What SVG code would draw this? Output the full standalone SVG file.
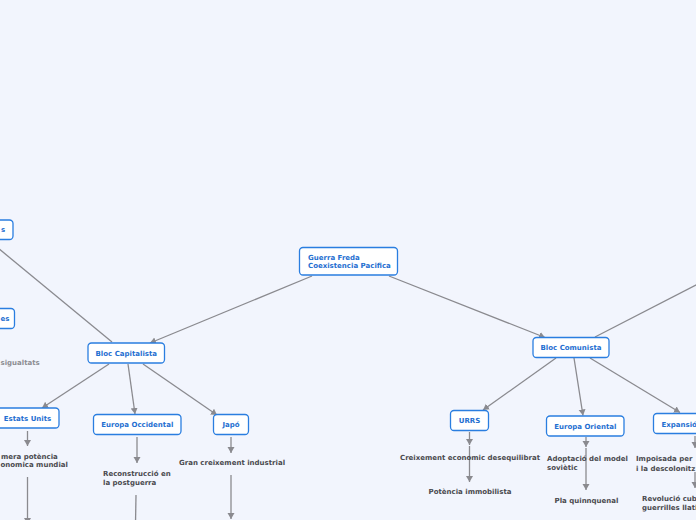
<svg xmlns="http://www.w3.org/2000/svg" width="696" height="520" viewBox="0 0 696 520">
<defs>
<style>
.bg{fill:#f2f5fd}
.box{fill:#ffffff;stroke:#2a7ee0;stroke-width:1.3}
.lbl{font-family:"DejaVu Sans",Verdana,sans-serif;font-weight:bold;font-size:7px;fill:#1f6fd1}
.txt{font-family:"DejaVu Sans",Verdana,sans-serif;font-weight:bold;font-size:7px;fill:#4a4a4f}
.txt2{font-family:"DejaVu Sans",Verdana,sans-serif;font-weight:bold;font-size:7px;fill:#8d8d92}
.con{stroke:#8a8a8f;stroke-width:1.3;fill:none}
</style>
<marker id="ah" markerUnits="userSpaceOnUse" markerWidth="8" markerHeight="8" refX="6" refY="3.5" orient="auto">
<path d="M0,0 L6,3.5 L0,7 z" fill="#8a8a8f"/>
</marker>
</defs>
<rect class="bg" x="0" y="0" width="696" height="520"/>
<g id="connectors">
<line class="con" x1="312" y1="276" x2="150" y2="343" marker-end="url(#ah)"/>
<line class="con" x1="389" y1="276" x2="545" y2="337.5" marker-end="url(#ah)"/>
<line class="con" x1="-2" y1="248" x2="112" y2="342"/>
<line class="con" x1="595" y1="337" x2="700" y2="283"/>
<line class="con" x1="109" y1="364" x2="42" y2="408" marker-end="url(#ah)"/>
<line class="con" x1="128" y1="364" x2="135" y2="414" marker-end="url(#ah)"/>
<line class="con" x1="143" y1="364" x2="217" y2="415" marker-end="url(#ah)"/>
<line class="con" x1="556" y1="358" x2="483" y2="410" marker-end="url(#ah)"/>
<line class="con" x1="574" y1="358" x2="583" y2="415.5" marker-end="url(#ah)"/>
<line class="con" x1="590" y1="358" x2="680" y2="412.5" marker-end="url(#ah)"/>
<line class="con" x1="27.5" y1="431" x2="27.5" y2="446" marker-end="url(#ah)"/>
<line class="con" x1="27.5" y1="477" x2="27.5" y2="524" marker-end="url(#ah)"/>
<line class="con" x1="137" y1="437" x2="137" y2="463" marker-end="url(#ah)"/>
<line class="con" x1="136" y1="495" x2="135.5" y2="524"/>
<line class="con" x1="231" y1="437" x2="231" y2="453" marker-end="url(#ah)"/>
<line class="con" x1="231" y1="475" x2="231" y2="519" marker-end="url(#ah)"/>
<line class="con" x1="469.5" y1="432" x2="469.5" y2="445" marker-end="url(#ah)"/>
<line class="con" x1="469.5" y1="446" x2="469.5" y2="482" marker-end="url(#ah)"/>
<line class="con" x1="586" y1="437" x2="586" y2="447" marker-end="url(#ah)"/>
<line class="con" x1="586" y1="448" x2="586" y2="490" marker-end="url(#ah)"/>
<line class="con" x1="695" y1="436" x2="695" y2="448" marker-end="url(#ah)"/>
<line class="con" x1="695" y1="472" x2="695" y2="488" marker-end="url(#ah)"/>
</g>
<g id="n-central">
<rect class="box" x="299.5" y="247.5" width="98" height="27.5" rx="3.5"/>
<text class="lbl" x="308" y="260">Guerra Freda</text>
<text class="lbl" x="308" y="268">Coexistencia Pacifica</text>
</g>
<g id="n-left1">
<rect class="box" x="-20" y="220" width="33" height="19.5" rx="3.5"/>
<text class="lbl" x="1" y="232">s</text>
</g>
<g id="n-left2">
<rect class="box" x="-20" y="308.5" width="34.5" height="20" rx="3.5"/>
<text class="lbl" x="0.5" y="320.5">es</text>
</g>
<g id="t-desigualtats">
<text class="txt2" x="0.5" y="364.5">sigualtats</text>
</g>
<g id="n-capitalista">
<rect class="box" x="88" y="343" width="76.5" height="20" rx="3.5"/>
<text class="lbl" x="126.3" y="355.5" text-anchor="middle">Bloc Capitalista</text>
</g>
<g id="n-comunista">
<rect class="box" x="533" y="337.5" width="76" height="20" rx="3.5"/>
<text class="lbl" x="571" y="350" text-anchor="middle">Bloc Comunista</text>
</g>
<g id="n-estats">
<rect class="box" x="-12" y="408" width="71" height="20" rx="3.5"/>
<text class="lbl" x="27.5" y="420.5" text-anchor="middle">Estats Units</text>
</g>
<g id="n-europaocc">
<rect class="box" x="93.5" y="414.5" width="87.5" height="20" rx="3.5"/>
<text class="lbl" x="137.3" y="427" text-anchor="middle">Europa Occidental</text>
</g>
<g id="n-japo">
<rect class="box" x="213.5" y="414.5" width="35" height="20" rx="3.5"/>
<text class="lbl" x="231" y="427" text-anchor="middle">Japó</text>
</g>
<g id="n-urrs">
<rect class="box" x="450.5" y="410.5" width="38" height="20" rx="3.5"/>
<text class="lbl" x="469.5" y="423" text-anchor="middle">URRS</text>
</g>
<g id="n-europaori">
<rect class="box" x="546.5" y="416" width="77.5" height="20" rx="3.5"/>
<text class="lbl" x="585.3" y="428.5" text-anchor="middle">Europa Oriental</text>
</g>
<g id="n-expansio">
<rect class="box" x="653.5" y="413.5" width="70" height="20" rx="3.5"/>
<text class="lbl" x="661.5" y="426.5">Expansió</text>
</g>
<g id="t-estats1">
<text class="txt" x="1" y="459">mera potència</text>
<text class="txt" x="0.5" y="467">onomica mundial</text>
</g>
<g id="t-europaocc1">
<text class="txt" x="103" y="476">Reconstrucció en</text>
<text class="txt" x="103" y="485">la postguerra</text>
</g>
<g id="t-japo1">
<text class="txt" x="179" y="465">Gran creixement industrial</text>
</g>
<g id="t-urrs1">
<text class="txt" x="470" y="460" text-anchor="middle">Creixement economic desequilibrat</text>
</g>
<g id="t-urrs2">
<text class="txt" x="470" y="493.5" text-anchor="middle">Potència immobilista</text>
</g>
<g id="t-europaori1">
<text class="txt" x="547" y="461">Adoptació del model</text>
<text class="txt" x="547" y="470">soviètic</text>
</g>
<g id="t-europaori2">
<text class="txt" x="586.5" y="502.5" text-anchor="middle">Pla quinnquenal</text>
</g>
<g id="t-expansio1">
<text class="txt" x="636" y="461">Impoisada per</text>
<text class="txt" x="636" y="470.5">i la descolonitz</text>
</g>
<g id="t-expansio2">
<text class="txt" x="642" y="501">Revolució cub</text>
<text class="txt" x="642" y="510">guerrilles llati</text>
</g>
</svg>
